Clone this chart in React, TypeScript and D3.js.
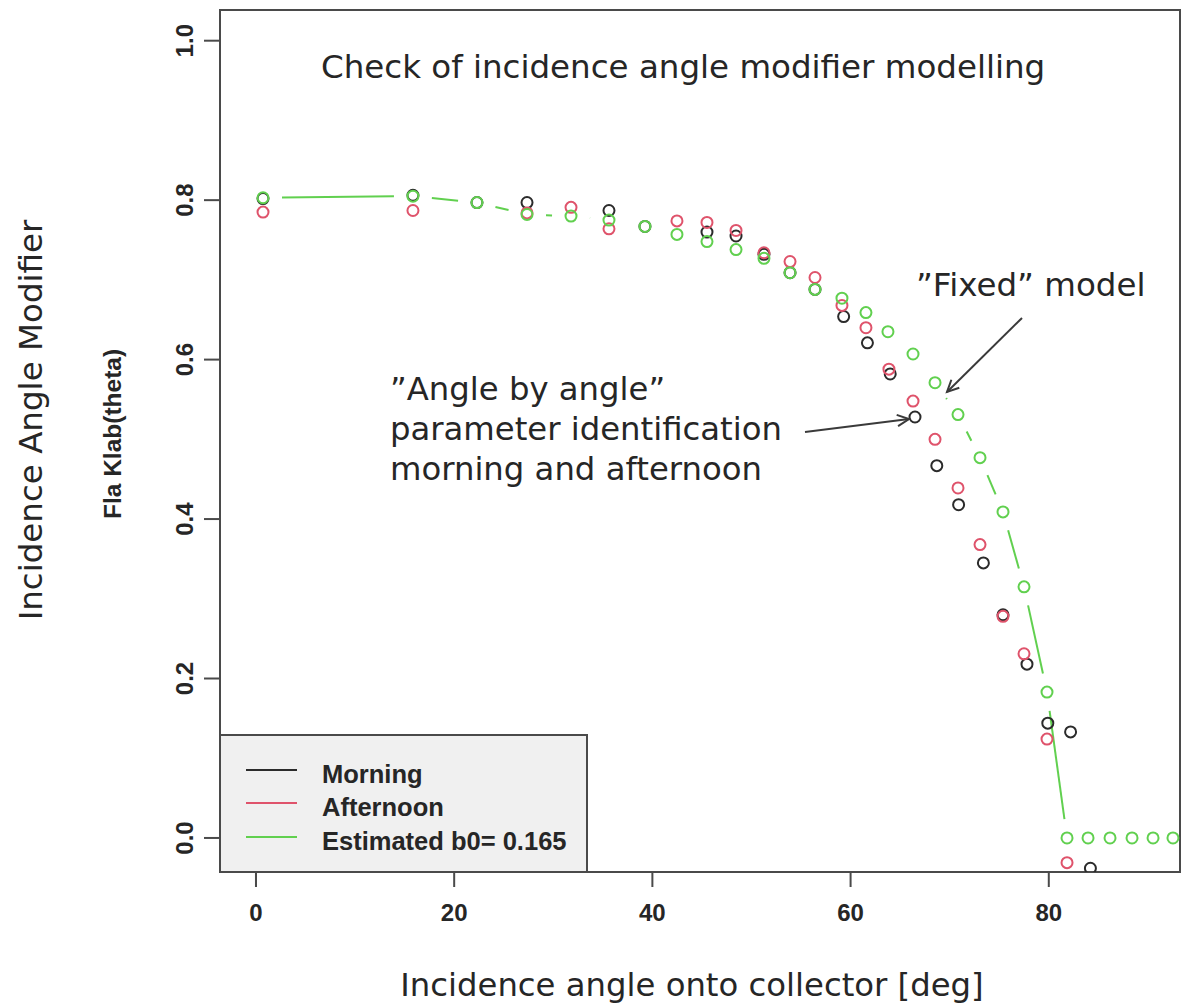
import React from "react";
import * as d3 from "d3";

// ---- data ----
const estAngle = [0.71, 15.84, 22.3, 27.35, 31.79, 35.62, 39.25, 42.48, 45.51, 48.44, 51.26, 53.89, 56.41, 59.13, 61.55, 63.77, 66.3, 68.52, 70.84, 73.06, 75.38, 77.5, 79.82, 81.84, 83.96, 86.18, 88.4, 90.52, 92.53];
const estValue = [0.803, 0.805, 0.797, 0.782, 0.780, 0.775, 0.767, 0.757, 0.748, 0.738, 0.727, 0.709, 0.688, 0.677, 0.659, 0.635, 0.607, 0.571, 0.531, 0.477, 0.409, 0.315, 0.183, 0.0, 0.0, 0.0, 0.0, 0.0, 0.0];

const morningAngle = [0.71, 15.84, 22.3, 27.35, 35.62, 39.25, 45.51, 48.44, 51.26, 53.89, 56.41, 59.3, 61.7, 64.0, 66.5, 68.7, 70.9, 73.4, 75.38, 77.8, 79.9, 82.2, 84.2];
const morningValue = [0.802, 0.806, 0.797, 0.797, 0.787, 0.767, 0.760, 0.755, 0.732, 0.709, 0.688, 0.654, 0.621, 0.582, 0.528, 0.467, 0.418, 0.345, 0.280, 0.218, 0.144, 0.133, -0.038];

const afternoonAngle = [0.71, 15.84, 27.35, 31.79, 35.62, 42.48, 45.51, 48.44, 51.26, 53.89, 56.41, 59.13, 61.55, 63.87, 66.3, 68.52, 70.84, 73.06, 75.38, 77.5, 79.82, 81.84];
const afternoonValue = [0.785, 0.787, 0.784, 0.791, 0.764, 0.774, 0.772, 0.762, 0.734, 0.723, 0.703, 0.668, 0.640, 0.588, 0.548, 0.500, 0.439, 0.368, 0.278, 0.231, 0.124, -0.031];

const xTicks = [0, 20, 40, 60, 80];
const yTicks = [0.0, 0.2, 0.4, 0.6, 0.8, 1.0];
const legendLabels = ["Morning", "Afternoon", "Estimated b0= 0.165"];
const seriesColors = ["#2b2b2b", "#DF536B", "#61D04F"];

const titleText = "Check of incidence angle modifier modelling";
const xTitle = "Incidence angle onto collector [deg]";
const yTitle = "Incidence Angle Modifier";
const yInnerTitle = "Fla Klab(theta)";
const fixedNote = "\u201DFixed\u201D model";
const angleNote = ["\u201DAngle by angle\u201D", "parameter identification", "morning and afternoon"];

export default function App() {
  const W = 1182, H = 1008;
  const L = 220, R = 1180, T = 10, B = 872;
  const x = d3.scaleLinear().domain([-3.63, 93.24]).range([L, R]);
  const y = d3.scaleLinear().domain([-0.0427, 1.0385]).range([B, T]);

  const sansBig = "'DejaVu Sans', Verdana, sans-serif";
  const sansR = "'Liberation Sans', Arial, sans-serif";
  const textCol = "#262626";
  const frameCol = "#4a4a4a";

  // type="b" line segments with gaps around points
  const gap = 19;
  const segs: { x1: number; y1: number; x2: number; y2: number }[] = [];
  for (let i = 0; i < estAngle.length - 1; i++) {
    const ax = x(estAngle[i]), ay = y(estValue[i]);
    const bx = x(estAngle[i + 1]), by = y(estValue[i + 1]);
    const d = Math.hypot(bx - ax, by - ay);
    if (d > 2 * gap) {
      const ux = (bx - ax) / d, uy = (by - ay) / d;
      segs.push({ x1: ax + ux * gap, y1: ay + uy * gap, x2: bx - ux * gap, y2: by - uy * gap });
    }
  }

  const arrow = (x1: number, y1: number, x2: number, y2: number, key: string) => {
    const ang = Math.atan2(y2 - y1, x2 - x1);
    const len = 13, spread = Math.PI / 7;
    const p1 = [x2 - len * Math.cos(ang - spread), y2 - len * Math.sin(ang - spread)];
    const p2 = [x2 - len * Math.cos(ang + spread), y2 - len * Math.sin(ang + spread)];
    return (
      <g key={key} stroke="#3a3a3a" strokeWidth={2} fill="none">
        <line x1={x1} y1={y1} x2={x2} y2={y2} />
        <polyline points={`${p1[0]},${p1[1]} ${x2},${y2} ${p2[0]},${p2[1]}`} />
      </g>
    );
  };

  const r = 5.5;
  const legendY = [770, 803, 837];

  return (
    <svg width={W} height={H} style={{ position: "absolute", left: 0, top: 0, background: "#fff" }}>
      <defs>
        <clipPath id="plotclip">
          <rect x={L} y={T} width={R - L} height={B - T} />
        </clipPath>
      </defs>
      <rect x={0} y={0} width={W} height={H} fill="#fff" />

      {/* frame */}
      <rect x={L} y={T} width={R - L} height={B - T} fill="none" stroke={frameCol} strokeWidth={2} />

      {/* x ticks */}
      {xTicks.map((t) => (
        <g key={"xt" + t}>
          <line x1={x(t)} x2={x(t)} y1={B} y2={B + 15} stroke={frameCol} strokeWidth={2} />
          <text x={x(t)} y={921} textAnchor="middle" fontFamily={sansR} fontWeight="bold" fontSize={24} fill={textCol}>
            {t}
          </text>
        </g>
      ))}
      {/* y ticks */}
      {yTicks.map((t) => (
        <g key={"yt" + t}>
          <line x1={L - 16} x2={L} y1={y(t)} y2={y(t)} stroke={frameCol} strokeWidth={2} />
          <text
            transform={`translate(193,${y(t)}) rotate(-90)`}
            textAnchor="middle"
            fontFamily={sansR}
            fontWeight="bold"
            fontSize={24}
            fill={textCol}
          >
            {t.toFixed(1)}
          </text>
        </g>
      ))}

      {/* axis titles */}
      <text x={692} y={996} textAnchor="middle" fontFamily={sansBig} fontSize={32.3} fill={textCol}>
        {xTitle}
      </text>
      <text transform="translate(42,420) rotate(-90)" textAnchor="middle" fontFamily={sansBig} fontSize={32.5} fill={textCol}>
        {yTitle}
      </text>
      <text transform="translate(121,434) rotate(-90)" textAnchor="middle" fontFamily={sansR} fontWeight="bold" fontSize={24.5} fill={textCol}>
        {yInnerTitle}
      </text>

      {/* data */}
      <g clipPath="url(#plotclip)">
        {segs.map((s, i) => (
          <line key={"s" + i} x1={s.x1} y1={s.y1} x2={s.x2} y2={s.y2} stroke={seriesColors[2]} strokeWidth={2} />
        ))}
        {morningAngle.map((a, i) => (
          <circle key={"m" + i} cx={x(a)} cy={y(morningValue[i])} r={r} fill="none" stroke={seriesColors[0]} strokeWidth={2} />
        ))}
        {afternoonAngle.map((a, i) => (
          <circle key={"a" + i} cx={x(a)} cy={y(afternoonValue[i])} r={r} fill="none" stroke={seriesColors[1]} strokeWidth={2} />
        ))}
        {estAngle.map((a, i) => (
          <circle key={"e" + i} cx={x(a)} cy={y(estValue[i])} r={r} fill="none" stroke={seriesColors[2]} strokeWidth={2} />
        ))}
      </g>

      {/* legend */}
      <rect x={L} y={735} width={367} height={B - 735} fill="#f0f0f0" stroke={frameCol} strokeWidth={2} />
      {legendLabels.map((lab, i) => (
        <g key={"lg" + i}>
          <line x1={246} x2={297} y1={legendY[i]} y2={legendY[i]} stroke={seriesColors[i]} strokeWidth={2} />
          <text x={322} y={legendY[i] + 13} fontFamily={sansR} fontWeight="bold" fontSize={25.5} fill={textCol}>
            {lab}
          </text>
        </g>
      ))}

      {/* title and annotations */}
      <text x={321} y={78} fontFamily={sansBig} fontSize={32.5} fill={textCol}>
        {titleText}
      </text>
      <text x={916} y={296} fontFamily={sansBig} fontSize={32.5} fill={textCol}>
        {fixedNote}
      </text>
      {angleNote.map((t, i) => (
        <text key={"an" + i} x={390} y={400 + i * 40} fontFamily={sansBig} fontSize={32.3} fill={textCol}>
          {t}
        </text>
      ))}
      {arrow(1022, 318, 947, 392, "a1")}
      {arrow(805, 432, 909, 419, "a2")}
    </svg>
  );
}
